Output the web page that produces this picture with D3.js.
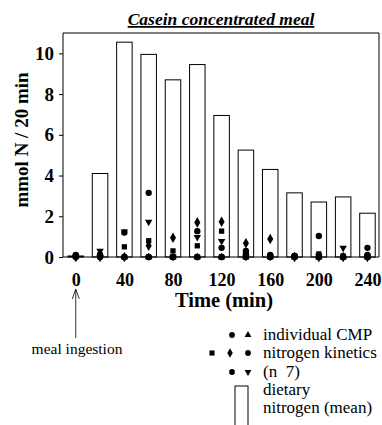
<!DOCTYPE html>
<html><head><meta charset="utf-8">
<script src="https://cdn.jsdelivr.net/npm/d3@7"></script>
<style>body{margin:0;background:#fff}svg{display:block}text{font-family:"Liberation Serif","Times New Roman",serif}</style>
</head><body><svg id="c" width="382" height="425"></svg>
<script>
const times = [0,20,40,60,80,100,120,140,160,180,200,220,240];
const dietaryN = [0.05,4.1,10.55,9.95,8.7,9.45,6.95,5.25,4.3,3.15,2.7,2.95,2.15];
const subjA_circle = [0.1,0.05,1.2,3.15,0,1.27,0.45,0.3,0.1,0.05,1.03,0,0.45];
const subjB_triUp = [0.05,0.15,0,0,0,0,0,0,0,0,0,0,0];
const subjC_square = [0.05,0.1,0.5,0.8,0.3,0.55,1.27,0.15,0.05,0.05,0.15,0.05,0.05];
const subjD_diamond = [0,0,0,0.55,0.95,1.7,1.73,0.68,0.88,0,0,0,0];
const subjE_circle = [0.05,0.1,0,0,0,0,0,0.15,0.05,0.05,0,0,0.1];
const subjF_circle = [0,0,0,0,0,0,0,0,0,0,0,0,0];
const subjG_triDown = [0,0.3,1.25,1.72,0,0.97,0.78,0,0,0,0.05,0.45,0];
const xTicks = [0,40,80,120,160,200,240];
const yTicks = [0,2,4,6,8,10];

const svg = d3.select("#c");
const L=63,R=379,T=33,B=257;
const x = d3.scaleLinear().domain([-10.5,249.5]).range([L,R]);
const y = d3.scaleLinear().domain([0,11]).range([B,T]);

svg.append("text").attr("x",221).attr("y",25).attr("text-anchor","middle")
  .attr("font-size",17.5).attr("font-weight","bold").attr("font-style","italic")
  .attr("text-decoration","underline").text("Casein concentrated meal");

svg.append("path").attr("d",`M${L},${B}V${T}H${R}V${B}`).attr("fill","none").attr("stroke","#000").attr("stroke-width",1);

const bw = 15.5;
svg.append("g").selectAll("rect").data(times).join("rect")
  .attr("x",(d)=>x(d)-bw/2).attr("width",bw)
  .attr("y",(d,i)=>y(dietaryN[i])).attr("height",(d,i)=>y(0)-y(dietaryN[i]))
  .attr("fill","#fff").attr("stroke","#000").attr("stroke-width",1);

const gy = svg.append("g").attr("transform",`translate(${L},0)`)
  .call(d3.axisLeft(y).tickValues(yTicks).tickSize(4).tickPadding(5));
gy.select(".domain").remove();
gy.selectAll("text").attr("font-size",19).attr("font-weight","bold").attr("font-family","Liberation Serif");
const gx = svg.append("g").attr("transform",`translate(0,${B})`)
  .call(d3.axisBottom(x).tickValues(xTicks).tickSize(0).tickPadding(16));
gx.select(".domain").attr("d",`M${L},0H${R}`);
gx.selectAll("text").attr("font-size",18).attr("font-weight","bold").attr("font-family","Liberation Serif");

const series = [
  {v:subjA_circle, s:d3.symbolCircle, size:32},
  {v:subjB_triUp, s:d3.symbolTriangle, size:24},
  {v:subjC_square, s:d3.symbolSquare, size:28},
  {v:subjD_diamond, s:d3.symbolDiamond, size:32},
  {v:subjE_circle, s:d3.symbolCircle, size:32},
  {v:subjF_circle, s:d3.symbolCircle, size:32},
  {v:subjG_triDown, s:d3.symbolTriangle, size:24, rot:180}
];
series.forEach(se=>{
  svg.append("g").selectAll("path").data(times).join("path")
    .attr("d",d3.symbol().type(se.s).size(se.size))
    .attr("transform",(d,i)=>`translate(${x(d)},${y(se.v[i])})${se.rot?" rotate(180)":""}`)
    .attr("fill","#000");
});

svg.append("text").attr("transform","translate(28,140) rotate(-90)").attr("text-anchor","middle")
  .attr("font-size",19).attr("font-weight","bold").text("mmol N / 20 min");
svg.append("text").attr("x",224).attr("y",307).attr("text-anchor","middle")
  .attr("font-size",20.5).attr("font-weight","bold").text("Time (min)");

const ax = x(0);
svg.append("line").attr("x1",ax).attr("x2",ax).attr("y1",338).attr("y2",290).attr("stroke","#000").attr("stroke-width",0.8);
svg.append("path").attr("d",`M${ax-3.5},${299}L${ax},${289}L${ax+3.5},${299}`).attr("fill","none").attr("stroke","#000").attr("stroke-width",0.8);
svg.append("text").attr("x",77).attr("y",354).attr("text-anchor","middle").attr("font-size",15.5).text("meal ingestion");

const lg = svg.append("g");
const legSym = [
  [232,335,d3.symbolCircle,0],[248,335,d3.symbolTriangle,0],
  [212,353,d3.symbolSquare,0],[230,353,d3.symbolDiamond,0],[248,353,d3.symbolCircle,0],
  [232,372,d3.symbolCircle,0],[248,372,d3.symbolTriangle,180]
];
legSym.forEach(([lx,ly,s,r])=>{
  lg.append("path").attr("d",d3.symbol().type(s).size(s===d3.symbolTriangle?20:26))
    .attr("transform",`translate(${lx},${ly}) rotate(${r})`).attr("fill","#000");
});
const lt = [["individual CMP",340],["nitrogen kinetics",358],["(n  7)",377],["dietary",395],["nitrogen (mean)",413]];
lt.forEach(([t,ty])=>lg.append("text").attr("x",263).attr("y",ty).attr("font-size",17).style("white-space","pre").text(t));
lg.append("rect").attr("x",235).attr("y",386).attr("width",13).attr("height",45).attr("fill","#fff").attr("stroke","#000").attr("stroke-width",1);
</script></body></html>
